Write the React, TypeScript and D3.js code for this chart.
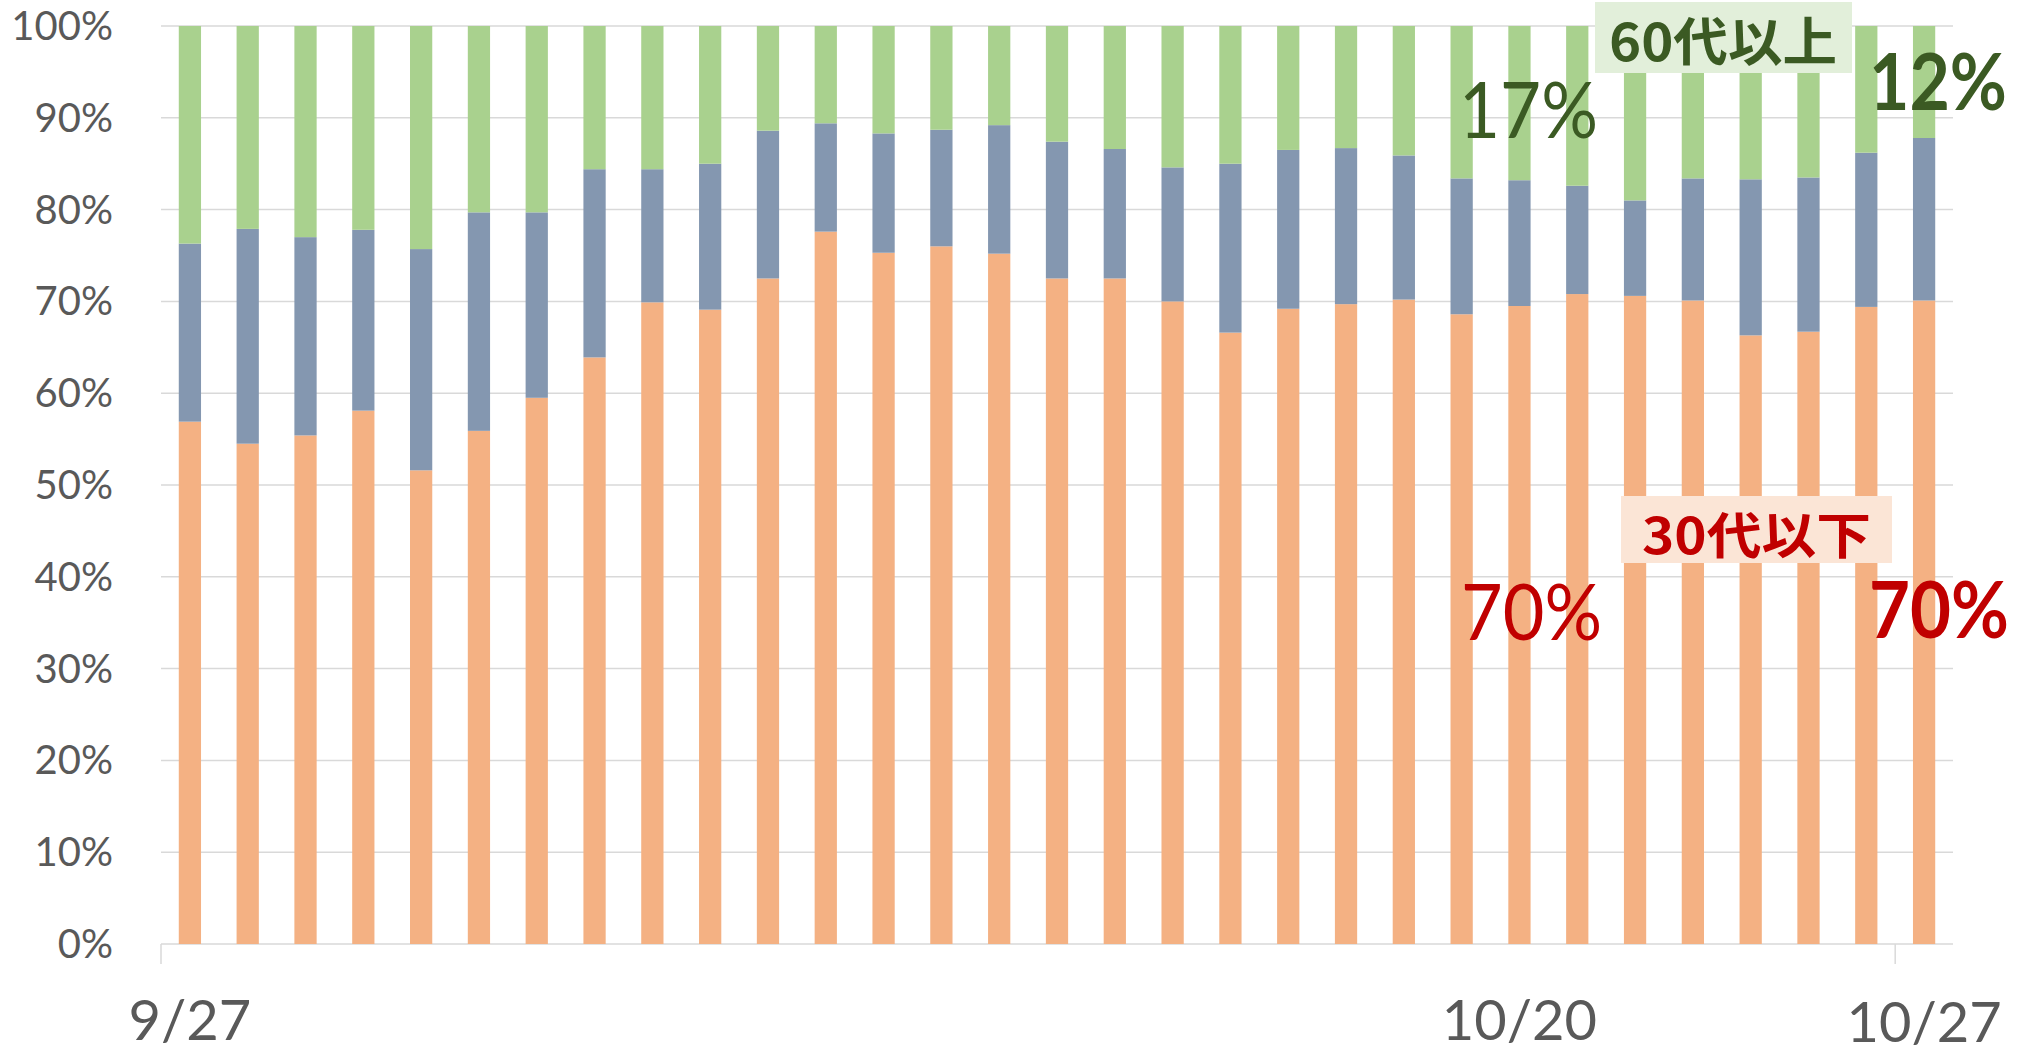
import React, { useEffect } from "react";
import * as d3 from "d3";

// Categories: daily dates 9/27 .. 10/27
const dates: string[] = [
  "9/27", "9/28", "9/29", "9/30", "10/1", "10/2", "10/3", "10/4", "10/5", "10/6",
  "10/7", "10/8", "10/9", "10/10", "10/11", "10/12", "10/13", "10/14", "10/15", "10/16",
  "10/17", "10/18", "10/19", "10/20", "10/21", "10/22", "10/23", "10/24", "10/25", "10/26", "10/27",
];

// Share (%) of each age group per day
const under30: number[] = [
  56.9, 54.5, 55.4, 58.1, 51.6, 55.9, 59.5, 63.9, 69.9, 69.1,
  72.5, 77.6, 75.3, 76.0, 75.2, 72.5, 72.5, 70.0, 66.6, 69.2,
  69.7, 70.2, 68.6, 69.5, 70.8, 70.6, 70.1, 66.3, 66.7, 69.4, 70.1,
];
const age40to50: number[] = [
  19.4, 23.4, 21.6, 19.7, 24.1, 23.8, 20.2, 20.5, 14.5, 15.9,
  16.1, 11.8, 13.0, 12.7, 14.0, 14.9, 14.1, 14.6, 18.4, 17.3,
  17.0, 15.7, 14.8, 13.7, 11.8, 10.4, 13.3, 17.0, 16.8, 16.8, 17.7,
];
const over60: number[] = [
  23.7, 22.1, 23.0, 22.2, 24.3, 20.3, 20.3, 15.6, 15.6, 15.0,
  11.4, 10.6, 11.7, 11.3, 10.8, 12.6, 13.4, 15.4, 15.0, 13.5,
  13.3, 14.1, 16.6, 16.8, 17.4, 19.0, 16.6, 16.7, 16.5, 13.8, 12.2,
];

const seriesKeys = ["under30", "age40to50", "over60"];
const seriesColors: Record<string, string> = {
  under30: "#F4B183",
  age40to50: "#8497B0",
  over60: "#A9D18E",
};

const yTicks: number[] = [0, 10, 20, 30, 40, 50, 60, 70, 80, 90, 100];
const xLabelDates: string[] = ["9/27", "10/20", "10/27"];

const W = 2024;
const H = 1055;
const LATIN = "Lato, 'Open Sans', 'Noto Sans', sans-serif";
const CJK = "'Noto Sans CJK JP', 'Noto Sans CJK SC', sans-serif";

export default function App() {
  useEffect(() => {
    document.body.style.margin = "0";
    document.body.style.overflow = "hidden";
  }, []);

  const rows = dates.map((d, i) => ({
    date: d,
    under30: under30[i],
    age40to50: age40to50[i],
    over60: over60[i],
  }));
  const stacked = d3.stack<any>().keys(seriesKeys)(rows);

  const x = d3
    .scaleBand<string>()
    .domain(dates)
    .range([161, 1953])
    .paddingInner(0.615)
    .paddingOuter(0.3075);
  const y = d3.scaleLinear().domain([0, 100]).range([944, 26]);
  const bw = x.bandwidth();
  const step = x.step();

  const cx = (d: string) => (x(d) as number) + bw / 2;

  return (
    <svg
      width={W}
      height={H}
      style={{ position: "fixed", left: 0, top: 0, display: "block", background: "#fff" }}
    >
      {/* gridlines */}
      {yTicks.map((t) => (
        <line
          key={"g" + t}
          x1={161}
          x2={1953}
          y1={y(t)}
          y2={y(t)}
          stroke="#D9D9D9"
          strokeWidth={1.5}
        />
      ))}
      {/* y labels */}
      {yTicks.map((t) => (
        <text
          key={"yl" + t}
          x={113}
          y={y(t) + 14}
          textAnchor="end"
          fontFamily={LATIN}
          fontSize={40}
          fill="#595959"
        >
          {t + "%"}
        </text>
      ))}
      {/* bars */}
      {stacked.map((s: any) => (
        <g key={s.key} fill={seriesColors[s.key]}>
          {s.map((seg: any, i: number) => (
            <rect
              key={i}
              x={x(dates[i])}
              width={bw}
              y={y(seg[1])}
              height={y(seg[0]) - y(seg[1])}
            />
          ))}
        </g>
      ))}
      {/* x axis ticks */}
      <line x1={161} x2={161} y1={944} y2={964} stroke="#D9D9D9" strokeWidth={1.5} />
      <line
        x1={(x("10/27") as number) - (step - bw) / 2}
        x2={(x("10/27") as number) - (step - bw) / 2}
        y1={944}
        y2={964}
        stroke="#D9D9D9"
        strokeWidth={1.5}
      />
      {/* x labels */}
      {xLabelDates.map((d, i) => (
        <text
          key={"xl" + d}
          x={cx(d)}
          y={i === 2 ? 1042 : 1040}
          textAnchor="middle"
          fontFamily={LATIN}
          fontSize={56}
          fill="#595959"
        >
          {d}
        </text>
      ))}

      {/* annotation boxes */}
      <rect x={1595} y={2} width={257} height={71} fill="#E2EFDA" />
      <text
        x={1723}
        y={38}
        textAnchor="middle"
        dominantBaseline="central"
        fontFamily={CJK}
        fontWeight={700}
        fontSize={52}
        fill="#3B5A23"
        textLength={228}
        lengthAdjust="spacingAndGlyphs"
      >
        60代以上
      </text>
      <rect x={1621} y={496} width={271} height={67} fill="#FBE5D6" />
      <text
        x={1756.5}
        y={532}
        textAnchor="middle"
        dominantBaseline="central"
        fontFamily={CJK}
        fontWeight={700}
        fontSize={50}
        fill="#C00000"
        textLength={229}
        lengthAdjust="spacingAndGlyphs"
      >
        30代以下
      </text>

      {/* percentage annotations */}
      <text
        x={1459}
        y={138}
        fontFamily={LATIN}
        fontSize={78}
        fill="#3B5A23"
        textLength={139}
        lengthAdjust="spacingAndGlyphs"
      >
        {Math.round(over60[23]) + "%"}
      </text>
      <text
        x={1869}
        y={110}
        fontFamily={LATIN}
        fontWeight={700}
        fontSize={78}
        fill="#3B5A23"
        textLength={138}
        lengthAdjust="spacingAndGlyphs"
      >
        {Math.round(over60[30]) + "%"}
      </text>
      <text
        x={1461}
        y={640}
        fontFamily={LATIN}
        fontSize={78}
        fill="#C00000"
        textLength={141}
        lengthAdjust="spacingAndGlyphs"
      >
        {Math.round(under30[23]) + "%"}
      </text>
      <text
        x={1869}
        y={638}
        fontFamily={LATIN}
        fontWeight={700}
        fontSize={78}
        fill="#C00000"
        textLength={140}
        lengthAdjust="spacingAndGlyphs"
      >
        {Math.round(under30[30]) + "%"}
      </text>
    </svg>
  );
}
